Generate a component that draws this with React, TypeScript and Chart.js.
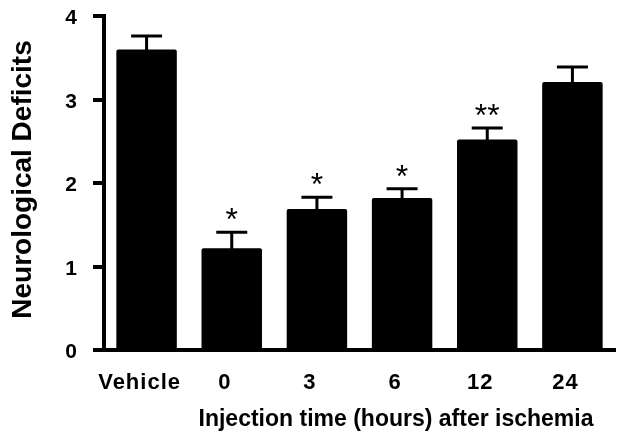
import React, { useEffect, useRef } from 'react';
import { Chart, registerables } from 'chart.js';

Chart.register(...registerables);

const categories = ['Vehicle', '0', '3', '6', '12', '24'];
const meanDeficit = [3.6, 1.22, 1.69, 1.82, 2.52, 3.21];
const semDeficit = [0.16, 0.19, 0.14, 0.11, 0.14, 0.18];
const significance = ['', '*', '*', '*', '**', ''];
const yTicks = [0, 1, 2, 3, 4];
const yTitle = 'Neurological Deficits';
const xTitle = 'Injection time (hours) after ischemia';

const FAMILY = '"Liberation Sans", Arial, Helvetica, sans-serif';

const spacingPlugin = {
  id: 'tickLetterSpacing',
  beforeDraw(chart: any) {
    (chart.ctx as any).letterSpacing = '1px';
  },
};

const annotationsPlugin = {
  id: 'errorBarsAndStars',
  afterDatasetsDraw(chart: any) {
    const ctx = chart.ctx as CanvasRenderingContext2D;
    const meta = chart.getDatasetMeta(0);
    const y = chart.scales.y;
    ctx.save();
    (ctx as any).letterSpacing = '0px';
    ctx.strokeStyle = '#000';
    ctx.fillStyle = '#000';
    ctx.lineCap = 'butt';
    meta.data.forEach((bar: any, i: number) => {
      const top = y.getPixelForValue(meanDeficit[i] + semDeficit[i]);
      const base = y.getPixelForValue(meanDeficit[i]);
      ctx.lineWidth = 3;
      ctx.beginPath();
      ctx.moveTo(bar.x, base + 1);
      ctx.lineTo(bar.x, top);
      ctx.moveTo(bar.x - 15.5, top);
      ctx.lineTo(bar.x + 15.5, top);
      ctx.stroke();
      if (significance[i]) {
        ctx.font = `32px ${FAMILY}`;
        ctx.textAlign = 'center';
        ctx.textBaseline = 'alphabetic';
        ctx.fillText(significance[i], bar.x, top - 2);
      }
    });
    // x-axis title
    ctx.font = `bold 23px ${FAMILY}`;
    ctx.textAlign = 'center';
    ctx.textBaseline = 'alphabetic';
    ctx.fillText(xTitle, 396, 426);
    // y-axis title
    ctx.save();
    ctx.translate(30.5, 179.5);
    ctx.rotate(-Math.PI / 2);
    ctx.font = `bold 28px ${FAMILY}`;
    ctx.textAlign = 'center';
    ctx.textBaseline = 'alphabetic';
    ctx.fillText(yTitle, 0, 0);
    ctx.restore();
    ctx.restore();
  },
};

export default function App() {
  const canvasRef = useRef<HTMLCanvasElement | null>(null);

  useEffect(() => {
    if (!canvasRef.current) return;
    const chart = new Chart(canvasRef.current, {
      type: 'bar',
      data: {
        labels: categories,
        datasets: [
          {
            data: meanDeficit,
            backgroundColor: '#000',
            borderWidth: 0,
            borderRadius: 2,
            borderSkipped: 'bottom',
            categoryPercentage: 1,
            barPercentage: 0.71,
          },
        ],
      },
      options: {
        responsive: false,
        animation: false,
        devicePixelRatio: 1,
        layout: { padding: { top: 16, right: 11, bottom: 0, left: 0 } },
        plugins: {
          legend: { display: false },
          tooltip: { enabled: false },
          title: { display: false },
        },
        scales: {
          x: {
            type: 'category',
            grid: { display: false },
            border: { display: true, color: '#000', width: 4 },
            ticks: {
              color: '#000',
              font: { family: FAMILY, size: 22, weight: 'bold' },
              padding: 12,
              labelOffset: -7,
              maxRotation: 0,
              autoSkip: false,
            },
            afterFit: (scale: any) => {
              scale.height = 90;
              scale.paddingLeft = 0;
              scale.paddingRight = 0;
            },
          },
          y: {
            type: 'linear',
            min: 0,
            max: 4,
            afterBuildTicks: (scale: any) => {
              scale.ticks = yTicks.map((v) => ({ value: v }));
            },
            grid: {
              display: true,
              drawOnChartArea: false,
              drawTicks: true,
              tickLength: 11,
              tickWidth: 4,
              tickColor: '#000',
              color: '#000',
              lineWidth: 4,
            },
            border: { display: true, color: '#000', width: 4 },
            ticks: {
              color: '#000',
              font: { family: FAMILY, size: 21, weight: 'bold' },
              padding: 15,
              labelOffset: 2.5,
            },
            afterFit: (scale: any) => {
              scale.width = 104;
              scale.paddingTop = 0;
              scale.paddingBottom = 0;
            },
          },
        },
      },
      plugins: [spacingPlugin, annotationsPlugin],
    });
    return () => chart.destroy();
  }, []);

  return (
    <div style={{ position: 'absolute', left: 0, top: 0, width: 626, height: 440, background: '#fff' }}>
      <canvas ref={canvasRef} width={626} height={440} style={{ display: 'block' }} />
    </div>
  );
}
